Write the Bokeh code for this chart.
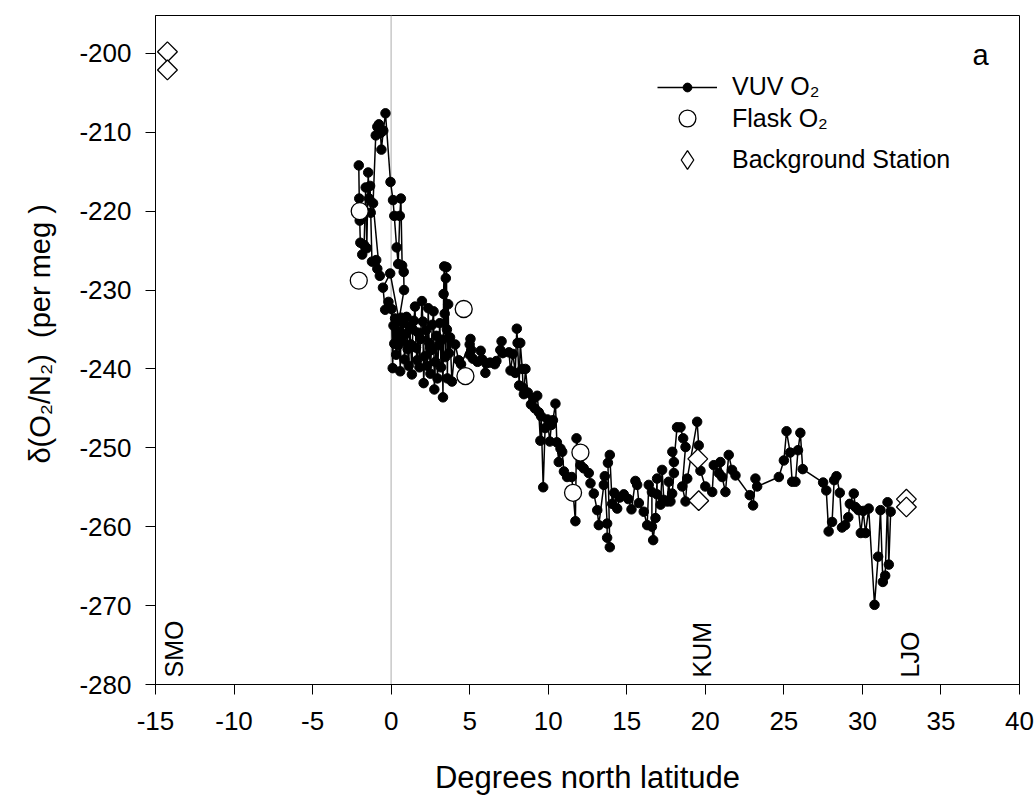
import numpy as np
from bokeh.plotting import figure
from bokeh.models import Range1d, Span, Legend, LegendItem, Label, FixedTicker
from bokeh.embed import file_html
from bokeh.resources import INLINE
from bokeh.core.properties import value

# ---------------- data ----------------
vuv_lat = [
    -2.06, -2.03, -2.00, -1.96, -1.84, -1.72, -1.62, -1.55, -1.46, -1.40,
    -1.34, -1.30, -1.22, -0.95, -0.88, -0.72, -1.15, -0.98, -0.88, -0.78,
    -0.68, -0.62, -0.50, -0.36, -0.04, 0.12, 0.20, 0.35, 0.45, 0.55,
    0.62, 0.70, 0.80, 0.82, 0.50, -0.06, -0.52, -0.38, -0.17, 0.02,
    0.10, 0.15, 0.20, 0.25, 0.32, 0.38, 0.45, 0.52, 0.58, 0.65,
    0.72, 0.78, 0.85, 0.92, 0.98, 1.05, 1.12, 1.18, 1.25, 1.32,
    1.38, 1.45, 1.52, 1.58, 1.65, 1.72, 1.80, 1.88, 1.96, 2.02,
    2.07, 2.14, 2.22, 2.30, 2.36, 2.42, 2.50, 2.56, 2.62, 2.70,
    2.75, 2.82, 2.88, 2.95, 3.02, 3.10, 3.18, 3.25, 3.30, 3.34,
    3.38, 3.41, 3.45, 3.48, 3.52, 3.55, 3.58, 3.63, 3.68, 3.75,
    3.87, 4.08, 4.30, 4.45, 5.00, 5.05, 5.10, 5.00, 5.20, 5.50,
    5.70, 5.80, 6.00, 6.05, 6.30, 6.60, 6.70, 6.95, 7.03, 7.10,
    7.50, 7.60, 7.75, 7.90, 8.00, 8.05, 8.15, 8.22, 8.35, 8.40,
    8.45, 8.55, 8.70, 8.90, 9.05, 9.15, 9.30, 9.40, 9.50, 9.55,
    9.68, 9.80, 9.95, 10.10, 10.20, 10.30, 10.46, 10.55, 10.67, 10.78,
    10.89, 11.00, 11.20, 11.50, 11.73, 11.80, 12.05, 12.26, 12.58, 12.69,
    12.90, 13.12, 13.22, 13.54, 13.60, 13.75, 13.75, 13.92, 13.80, 13.92,
    14.07, 14.20, 14.39, 14.55, 14.81, 15.10, 15.30, 15.55, 15.66, 15.77,
    16.08, 16.30, 16.40, 16.60, 16.60, 16.68, 16.83, 16.93, 16.93, 17.15,
    17.25, 17.36, 17.57, 17.67, 17.78, 17.89, 18.00, 17.90, 18.00, 18.20,
    18.42, 18.59, 18.74, 18.53, 18.74, 18.85, 19.48, 19.58, 19.69, 20.00,
    20.44, 20.54, 20.86, 20.96, 21.07, 21.28, 21.49, 21.70, 21.92, 22.83,
    23.04, 23.19, 23.30, 24.68, 25.00, 25.17, 25.40, 25.53, 25.74, 25.90,
    26.05, 26.20, 27.50, 27.70, 27.85, 28.07, 28.20, 28.35, 28.56, 28.70,
    28.90, 29.10, 29.20, 29.45, 29.55, 29.75, 29.90, 30.05, 30.20, 30.40,
    30.77, 31.00, 31.15, 31.30, 31.45, 31.60, 31.68, 31.80,
]
vuv_o2 = [
    -214.2, -218.4, -221.2, -224.0, -225.5, -224.3, -217.0, -224.7, -215.1, -218.4,
    -216.8, -220.2, -226.4, -226.2, -227.3, -228.2, -219.0, -210.4, -209.3, -209.0,
    -210.1, -212.2, -209.8, -207.6, -216.3, -218.6, -220.6, -224.6, -226.7, -220.6,
    -218.4, -226.9, -227.7, -230.0, -233.8, -227.9, -229.7, -232.5, -231.5, -232.4,
    -239.9, -234.5, -236.8, -233.6, -238.2, -234.0, -237.0, -235.2, -240.3, -233.5,
    -236.5, -234.2, -238.8, -235.6, -233.4, -237.5, -239.6, -234.6, -236.9, -240.7,
    -235.0, -233.9, -232.1, -237.3, -238.9, -235.4, -239.8, -236.2, -231.4, -234.0,
    -241.8, -238.4, -235.1, -239.6, -232.3, -236.7, -240.6, -237.6, -234.4, -232.7,
    -242.6, -239.1, -235.8, -241.2, -237.0, -234.2, -239.8, -236.3, -243.6, -230.5,
    -227.0, -233.0, -238.5, -228.5, -227.1, -235.0, -241.2, -231.8, -238.0, -236.0,
    -241.6, -236.9, -238.9, -239.4, -236.9, -236.2, -237.6, -238.2, -238.7, -239.1,
    -237.7, -238.8, -240.5, -239.3, -239.2, -239.4, -239.0, -237.6, -236.5, -238.0,
    -237.9, -240.2, -238.1, -240.5, -234.9, -236.7, -242.1, -236.7, -240.0, -242.4,
    -243.2, -240.0, -243.0, -244.5, -243.7, -245.0, -243.4, -245.5, -249.1, -246.0,
    -255.0, -247.5, -246.4, -249.2, -247.1, -246.5, -244.4, -249.3, -251.8, -250.1,
    -250.5, -253.0, -253.7, -253.7, -259.3, -248.8, -252.2, -252.6, -253.2, -254.5,
    -255.8, -257.9, -259.8, -254.7, -253.6, -259.6, -261.4, -262.6, -251.9, -250.9,
    -257.1, -255.7, -257.7, -256.3, -255.9, -256.5, -257.8, -254.2, -254.7, -257.0,
    -258.1, -259.8, -254.7, -255.6, -260.0, -261.7, -258.9, -253.9, -255.9, -257.2,
    -252.8, -256.6, -256.8, -254.3, -256.8, -255.8, -253.2, -250.5, -251.8, -247.4,
    -247.4, -248.8, -249.9, -254.9, -256.8, -253.9, -246.7, -249.7, -252.9, -254.9,
    -255.6, -252.2, -253.2, -251.8, -253.7, -255.6, -250.9, -252.8, -253.5, -256.0,
    -257.3, -253.9, -254.9, -253.7, -251.6, -247.9, -250.6, -254.3, -254.3, -250.3,
    -248.1, -252.7, -254.4, -255.4, -260.6, -259.4, -254.1, -253.6, -255.7, -260.1,
    -259.8, -258.8, -257.1, -255.8, -257.5, -257.9, -260.8, -258.0, -260.8, -257.7,
    -269.9, -263.8, -257.9, -267.0, -266.2, -256.9, -264.8, -258.1,
]

flask_lat = [-2.00, -2.06, 4.62, 4.73, 11.58, 12.05]
flask_o2 = [-220.0, -228.8, -232.4, -240.9, -255.7, -250.6]

station_lat = [-14.24, -14.24, 19.52, 19.58, 32.80, 32.80]
station_o2 = [-199.8, -202.1, -251.4, -256.7, -256.5, -257.5]

station_names = ["SMO", "KUM", "LJO"]
station_label_lat = [-13.85, 19.80, 33.05]

x_ticks = list(range(-15, 41, 5))
y_ticks = list(range(-280, -199, 10))

FONT = "Liberation Sans"

# ---------------- figure ----------------
p = figure(width=1035, height=797,
           x_range=Range1d(-15, 40), y_range=Range1d(-280, -195.2),
           output_backend="svg", toolbar_location=None,
           min_border_left=155, min_border_right=16,
           min_border_top=15, min_border_bottom=110)
p.background_fill_color = "white"
p.border_fill_color = "white"
p.outline_line_color = "black"
p.outline_line_width = 1
p.xgrid.visible = False
p.ygrid.visible = False
# auxiliary range used only to give the legend key a (hidden) data source
p.extra_y_ranges = {"key": Range1d(0, 1)}

for ax in (p.xaxis[0], p.yaxis[0]):
    ax.axis_line_color = "black"
    ax.axis_line_width = 1
    ax.major_tick_line_color = "black"
    ax.major_tick_out = 10
    ax.major_tick_in = 0
    ax.minor_tick_line_color = None
    ax.major_label_text_font = FONT
    ax.major_label_text_font_size = "26px"
    ax.major_label_text_color = "black"
    ax.axis_label_text_font = FONT
    ax.axis_label_text_font_style = "normal"
    ax.axis_label_text_color = "black"

p.xaxis.ticker = FixedTicker(ticks=x_ticks)
p.yaxis.ticker = FixedTicker(ticks=y_ticks)
p.xaxis.major_label_overrides = {t: str(t) for t in x_ticks}
p.yaxis.major_label_overrides = {t: str(t) for t in y_ticks}
p.xaxis.axis_label = "Degrees north latitude"
p.xaxis.axis_label_text_font_size = "31px"
p.xaxis.major_label_standoff = 17
p.xaxis.axis_label_standoff = 27
p.yaxis.axis_label = "\u00a0\u00a0\u00a0\u00a0δ(O₂/N₂)\u00a0\u00a0(per meg )"
p.yaxis.axis_label_text_font_size = "29px"
p.yaxis.major_label_standoff = 14
p.yaxis.axis_label_standoff = 20

p.add_layout(Span(location=0, dimension="height", line_color="#c8c8c8",
                  line_width=1.5, level="underlay"))

r_line = p.line(vuv_lat, vuv_o2, line_color="black", line_width=1.5)
r_dots = p.scatter(vuv_lat, vuv_o2, marker="circle", size=9.5, fill_color="black", line_color="black")
r_flask = p.scatter(flask_lat, flask_o2, marker="circle", size=17,
                    fill_color="white", line_color="black", line_width=1.3)
r_st = p.scatter(station_lat, station_o2, marker="square", angle=np.pi / 4, size=14,
                 fill_color="white", line_color="black", line_width=1.3)
# legend key for the station symbol (legend keys are drawn unrotated, so use a
# diamond marker; its data sit on the auxiliary range, outside the frame)
r_st_key = p.scatter(station_lat, station_o2, y_range_name="key", marker="diamond",
                     fill_color="white", line_color="black", line_width=1.3)

p.text(x=station_label_lat, y=-279.1, text=station_names, angle=np.pi / 2,
       text_align="left", text_baseline="middle",
       text_font=value(FONT), text_font_size="25px", text_color="black")

p.add_layout(Label(x=825, y=630, x_units="screen", y_units="screen", text="a",
                   text_font=FONT, text_font_size="29px", text_align="center",
                   text_baseline="middle", text_color="black"))

def make_legend(items, gh, loc):
    lg = Legend(items=items, location=loc, glyph_width=60, glyph_height=gh,
                label_standoff=15, padding=0, margin=0, spacing=0,
                border_line_color=None, background_fill_alpha=0,
                label_text_font=FONT, label_text_font_size="25px",
                label_text_color="black")
    p.add_layout(lg)

make_legend([LegendItem(label="VUV O₂", renderers=[r_line, r_dots])], 22, (502, 583))
make_legend([LegendItem(label="Flask O₂", renderers=[r_flask])], 42, (502, 545))
make_legend([LegendItem(label="Background Station", renderers=[r_st_key])], 47, (502, 501))

open("out.html", "w").write(file_html(p, INLINE))
